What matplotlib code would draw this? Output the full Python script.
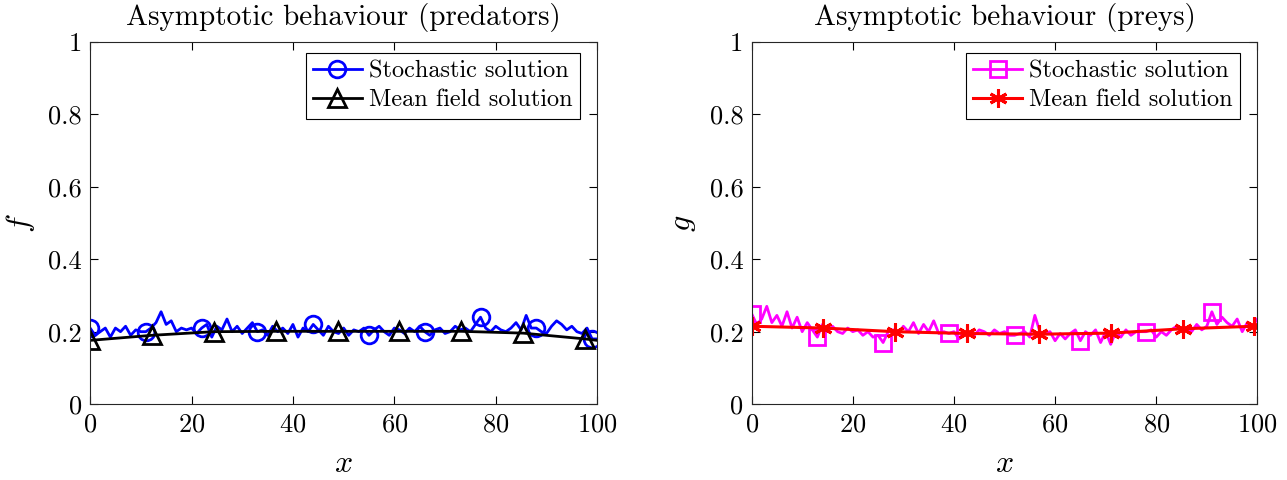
import numpy as np
import matplotlib.pyplot as plt

plt.rcParams['font.family'] = 'serif'
plt.rcParams['font.serif'] = ['cmr10']
plt.rcParams['mathtext.fontset'] = 'cm'
plt.rcParams['axes.formatter.use_mathtext'] = True

# stochastic solutions on x = 0..100
x_sto = np.arange(0, 101)
f_sto = [0.21, 0.19, 0.2, 0.21, 0.185, 0.21, 0.2, 0.215, 0.19, 0.205, 0.2,
         0.2, 0.21, 0.225, 0.255, 0.22, 0.23, 0.2, 0.21, 0.205, 0.21, 0.195,
         0.21, 0.22, 0.185, 0.215, 0.205, 0.235, 0.2, 0.215, 0.195, 0.21, 0.225,
         0.2, 0.205, 0.19, 0.215, 0.2, 0.21, 0.195, 0.22, 0.185, 0.21, 0.2,
         0.22, 0.205, 0.19, 0.215, 0.2, 0.195, 0.21, 0.19, 0.205, 0.2, 0.21,
         0.19, 0.205, 0.215, 0.2, 0.19, 0.21, 0.205, 0.195, 0.21, 0.2, 0.215,
         0.2, 0.19, 0.205, 0.21, 0.195, 0.2, 0.215, 0.205, 0.21, 0.2, 0.22,
         0.24, 0.21, 0.2, 0.215, 0.205, 0.2, 0.21, 0.225, 0.205, 0.245, 0.21,
         0.21, 0.2, 0.195, 0.215, 0.23, 0.22, 0.205, 0.215, 0.2, 0.195, 0.21, 0.18, 0.18]
g_sto = [0.25, 0.22, 0.235, 0.27, 0.225, 0.245, 0.215, 0.255, 0.21, 0.24, 0.2, 0.225, 0.205,
         0.185, 0.22, 0.2, 0.215, 0.2, 0.195, 0.21, 0.2, 0.205, 0.19, 0.2, 0.185, 0.19,
         0.17, 0.2, 0.205, 0.195, 0.215, 0.2, 0.225, 0.195, 0.22, 0.2, 0.23, 0.195, 0.2,
         0.195, 0.2, 0.18, 0.2, 0.195, 0.19, 0.205, 0.2, 0.19, 0.205, 0.195, 0.2, 0.19,
         0.19, 0.195, 0.2, 0.185, 0.245, 0.2, 0.195, 0.2, 0.175, 0.195, 0.18, 0.195, 0.205,
         0.175, 0.2, 0.19, 0.205, 0.17, 0.2, 0.165, 0.2, 0.185, 0.205, 0.19, 0.2, 0.2,
         0.2, 0.205, 0.185, 0.2, 0.19, 0.205, 0.215, 0.2, 0.21, 0.2, 0.22, 0.205, 0.215,
         0.255, 0.22, 0.24, 0.225, 0.215, 0.235, 0.2, 0.225, 0.215, 0.235]

# mean field solutions
x_mf_f = [0, 12.2, 24.4, 36.6, 48.8, 61.0, 73.2, 85.4, 97.6, 100]
f_mf = [0.176, 0.19, 0.2, 0.201, 0.201, 0.201, 0.201, 0.196, 0.18, 0.176]
x_mf_g = [0, 14.2, 28.4, 42.6, 56.8, 71.0, 85.2, 99.4, 100]
g_mf = [0.215, 0.21, 0.2, 0.195, 0.193, 0.196, 0.208, 0.215, 0.215]

xticks = [0, 20, 40, 60, 80, 100]
yticks = [0, 0.2, 0.4, 0.6, 0.8, 1]
yticklabels = ['0', '0.2', '0.4', '0.6', '0.8', '1']

fig = plt.figure(figsize=(12.87, 4.8), dpi=100)
ax1 = fig.add_axes([0.070, 0.158, 0.394, 0.755])
ax2 = fig.add_axes([0.584, 0.158, 0.393, 0.755])

ax1.plot(x_sto, f_sto, color='#0000ff', lw=2, marker='o', ms=12, mfc='none',
         mew=2, markevery=11, label='Stochastic solution')
ax1.plot(x_mf_f, f_mf, color='black', lw=2, marker='^', ms=13, mfc='none',
         mew=2, markevery=list(range(9)), label='Mean field solution')
ax2.plot(x_sto, g_sto, color='#ff00ff', lw=2, marker='s', ms=11, mfc='none',
         mew=2, markevery=13, label='Stochastic solution')
ax2.plot(x_mf_g, g_mf, color='#ff0000', lw=2.2, marker=(6, 2, 0), ms=13,
         mew=2.2, markevery=list(range(8)), label='Mean field solution')

for ax, yl, title in [(ax1, '$f$', 'Asymptotic behaviour (predators)'),
                      (ax2, '$g$', 'Asymptotic behaviour (preys)')]:
    ax.set_xlim(0, 100)
    ax.set_ylim(0, 1)
    ax.set_xticks(xticks)
    ax.set_yticks(yticks)
    ax.set_yticklabels(yticklabels)
    ax.tick_params(direction='in', labelsize=19, length=6, width=0.8,
                   top=True, right=True, pad=6)
    for s in ax.spines.values():
        s.set_color('#262626')
        s.set_linewidth(0.8)
    ax.set_xlabel('$x$', fontsize=23, labelpad=10)
    ax.set_ylabel(yl, fontsize=23, labelpad=8)
    ax.set_title(title, fontsize=21, pad=12)
    leg = ax.legend(loc='upper right', bbox_to_anchor=(0.966, 0.97),
                    fontsize=17.5, fancybox=False,
                    edgecolor='black', framealpha=1, handlelength=2,
                    borderaxespad=0, handletextpad=0.3, borderpad=0.3,
                    labelspacing=0.3)
    leg.get_frame().set_linewidth(0.8)

plt.savefig('out.png', dpi=100)
